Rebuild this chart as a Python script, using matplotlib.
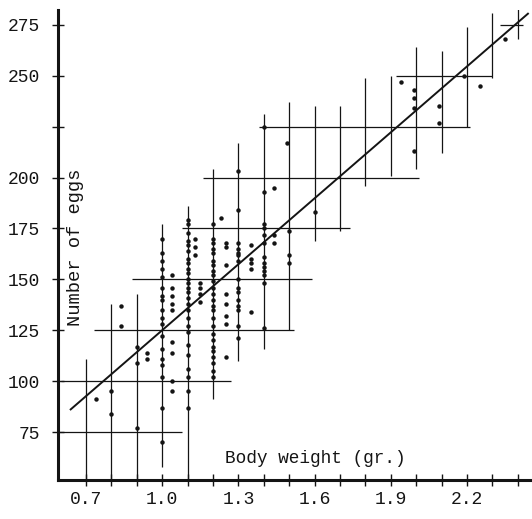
import numpy as np
import matplotlib
matplotlib.use("Agg")
import matplotlib.pyplot as plt

# body weight (gr.) vs number of eggs
weight = [0.74, 0.80, 0.80, 0.84, 0.84, 0.90, 0.90, 0.90, 0.94, 0.94,
          1.0, 1.0, 1.0, 1.0, 1.0, 1.0, 1.0, 1.0, 1.0, 1.0, 1.0, 1.0, 1.0, 1.0, 1.0, 1.0, 1.0, 1.0,
          1.04, 1.04, 1.04, 1.04, 1.04, 1.04, 1.04, 1.04, 1.04,
          1.1, 1.1, 1.1, 1.1, 1.1, 1.1, 1.1, 1.1, 1.1, 1.1, 1.1, 1.1, 1.1,
          1.1, 1.1, 1.1, 1.1, 1.1, 1.1, 1.1, 1.1, 1.1, 1.1, 1.1, 1.1, 1.1,
          1.13, 1.13, 1.13, 1.15, 1.15, 1.15, 1.15,
          1.2, 1.2, 1.2, 1.2, 1.2, 1.2, 1.2, 1.2, 1.2, 1.2, 1.2, 1.2, 1.2,
          1.2, 1.2, 1.2, 1.2, 1.2, 1.2, 1.2, 1.2, 1.2, 1.2, 1.2, 1.2,
          1.23, 1.25, 1.25, 1.25, 1.25, 1.25, 1.25, 1.25, 1.25,
          1.3, 1.3, 1.3, 1.3, 1.3, 1.3, 1.3, 1.3, 1.3, 1.3, 1.3, 1.3, 1.3, 1.3, 1.3,
          1.35, 1.35, 1.35, 1.35, 1.35,
          1.4, 1.4, 1.4, 1.4, 1.4, 1.4, 1.4, 1.4, 1.4, 1.4, 1.4, 1.4, 1.4,
          1.44, 1.44, 1.44, 1.49, 1.5, 1.5, 1.5, 1.6,
          1.94, 1.99, 1.99, 1.99, 1.99, 2.09, 2.09, 2.19, 2.25, 2.35]
eggs = [91, 95, 84, 137, 127, 117, 109, 77, 114, 111,
        170, 163, 159, 155, 151, 146, 142, 140, 135, 131, 128, 122, 116, 111, 108, 102, 87, 70,
        152, 146, 142, 138, 135, 119, 114, 100, 95,
        179, 177, 173, 169, 167, 164, 160, 158, 155, 153, 150, 148, 146,
        144, 141, 138, 135, 131, 127, 124, 118, 113, 106, 102, 95, 87,
        170, 166, 162, 148, 146, 143, 139,
        177, 170, 168, 165, 163, 159, 157, 154, 152, 149, 146, 143, 140,
        137, 135, 131, 127, 123, 120, 117, 115, 112, 109, 105, 102,
        180, 168, 166, 157, 143, 138, 132, 128, 112,
        203, 184, 168, 165, 163, 162, 159, 150, 146, 144, 140, 137, 135, 127, 121,
        167, 160, 158, 155, 134,
        225, 193, 177, 175, 172, 168, 161, 158, 156, 154, 152, 148, 126,
        195, 172, 168, 217, 174, 162, 158, 183,
        247, 243, 239, 234, 213, 235, 227, 250, 245, 268]

# vertical range lines: weight class, lowest and highest egg number
v_class = [0.7, 0.8, 0.9, 1.0, 1.1, 1.2, 1.3, 1.4, 1.5, 1.6, 1.7, 1.8, 1.9, 2.0, 2.1, 2.2, 2.3, 2.4]
v_low = [51, 51, 51, 58, 52, 91, 110, 116, 125, 169, 174, 196, 201, 204, 212, 225, 249, 268]
v_high = [111, 138, 143, 177, 186, 204, 217, 231, 237, 235, 235, 249, 250, 264, 262, 274, 281, 284]

# horizontal range lines: egg class, lowest and highest weight
h_class = [75, 100, 125, 150, 175, 200, 225, 250, 275]
h_low = [0.59, 0.60, 0.73, 0.88, 1.08, 1.16, 1.38, 1.92, 2.33]
h_high = [1.08, 1.27, 1.52, 1.59, 1.74, 2.01, 2.21, 2.30, 2.42]

# regression line
fit_range = [0.64, 2.44]
intercept = 125.0   # eggs at 1.0 gr.
slope = 108.0       # eggs per gr.

x_ticks = np.round(np.arange(0.7, 2.45, 0.1), 1)
x_labels = ["0.7", "1.0", "1.3", "1.6", "1.9", "2.2"]
y_ticks = [75, 100, 125, 150, 175, 200, 225, 250, 275]
y_labels = ["75", "100", "125", "150", "175", "200", "", "250", "275"]

ink = "#141414"
mono = ["Liberation Mono", "DejaVu Sans Mono"]

fig = plt.figure(figsize=(5.32, 5.19), dpi=100)
ax = fig.add_axes([0.109, 0.075, 0.891, 0.906])

ax.vlines(v_class, v_low, v_high, color=ink, lw=0.9)
ax.hlines(h_class, h_low, h_high, color=ink, lw=0.9)

fx = np.array(fit_range)
ax.plot(fx, intercept + slope * (fx - 1.0), color=ink, lw=1.4)

ax.plot(weight, eggs, 'o', color=ink, ms=3.2, mew=0)

ax.set_xlim(0.59, 2.456)
ax.set_ylim(51.4, 282.4)

ax.set_xticks(x_ticks)
ax.set_xticklabels([f"{t:.1f}" if f"{t:.1f}" in x_labels else "" for t in x_ticks])
ax.set_yticks(y_ticks)
ax.set_yticklabels(y_labels)
ax.tick_params(direction='inout', length=8, width=1, color=ink, labelcolor=ink)
ax.tick_params(axis='y', pad=9)
ax.tick_params(axis='x', pad=4)
for lab in ax.get_xticklabels() + ax.get_yticklabels():
    lab.set_family(mono)
    lab.set_fontsize(13)

for side in ['top', 'right']:
    ax.spines[side].set_visible(False)
for side in ['left', 'bottom']:
    ax.spines[side].set_linewidth(2.2)
    ax.spines[side].set_color(ink)

ax.text(0.657, 166, "Number of eggs", rotation=90, ha='center', va='center',
        family=mono, fontsize=13.5, color=ink)
ax.text(1.247, 62, "Body weight (gr.)", ha='left', va='center',
        family=mono, fontsize=12.8, color=ink)

fig.savefig("out.png", dpi=100)
